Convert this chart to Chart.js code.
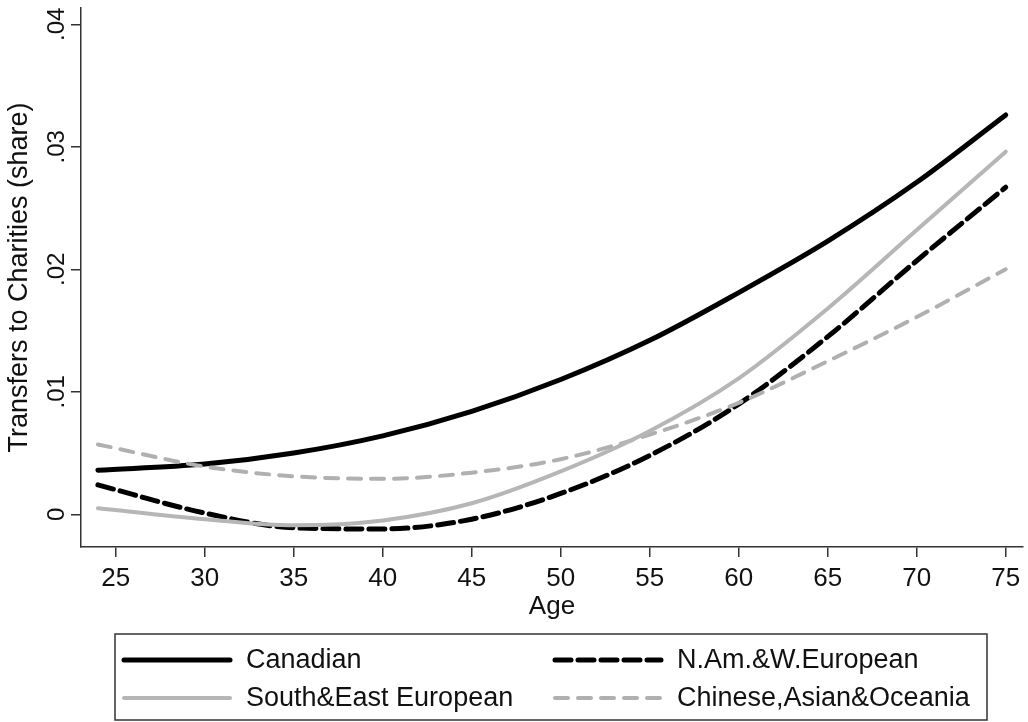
<!DOCTYPE html>
<html>
<head>
<meta charset="utf-8">
<script src="https://cdn.jsdelivr.net/npm/chart.js@4.4.1/dist/chart.umd.min.js"></script>
<style>
  html, body { margin: 0; padding: 0; background: #fff; }
  #wrap { width: 1028px; height: 722px; }
</style>
</head>
<body>
<div id="wrap"><canvas id="chart" width="1028" height="722"></canvas></div>
<script>
// values (share of income)
const ages = [24, 30, 35, 40, 45, 50, 55, 60, 65, 70, 75];
const canadian = [0.0036, 0.0041, 0.0050, 0.0064, 0.0084, 0.0110, 0.0142, 0.0181, 0.0223, 0.0271, 0.0326];
const namWEuropean = [0.0024, 0.0001, -0.0011, -0.0012, -0.0004, 0.0017, 0.0048, 0.0090, 0.0145, 0.0207, 0.0267];
const southEastEuropean = [0.0005, -0.0004, -0.0009, -0.0005, 0.0009, 0.0035, 0.0068, 0.0111, 0.0168, 0.0232, 0.0296];
const chineseAsianOceania = [0.0057, 0.0039, 0.0031, 0.0029, 0.0034, 0.0045, 0.0065, 0.0091, 0.0125, 0.0161, 0.0200];

const seriesNames = ['Canadian', 'N.Am.&W.European', 'South&East European', 'Chinese,Asian&Oceania'];
const xTicks = [25, 30, 35, 40, 45, 50, 55, 60, 65, 70, 75];
const yTicks = [0, 0.01, 0.02, 0.03, 0.04];
const yTickLabels = ['0', '.01', '.02', '.03', '.04'];

const FONT = "'Liberation Sans', Arial, Helvetica, sans-serif";
const AXIS = '#333';
const TEXT = '#111';

const pts = vals => ages.map((a, i) => ({ x: a, y: vals[i] }));

// legend drawn in a framed box, two columns like the original
const legendBox = {
  id: 'legendBox',
  afterDraw(chart, args, o) {
    const ctx = chart.ctx;
    ctx.save();
    ctx.strokeStyle = AXIS;
    ctx.lineWidth = 1.5;
    ctx.strokeRect(o.left, o.top, o.width, o.height);
    chart.data.datasets.forEach((ds, i) => {
      const x = o.cols[i % 2];
      const y = o.rows[Math.floor(i / 2)];
      ctx.beginPath();
      ctx.strokeStyle = ds.borderColor;
      ctx.lineWidth = ds.borderWidth;
      ctx.lineCap = 'round';
      ctx.setLineDash(ds.borderDash || []);
      ctx.moveTo(x, y);
      ctx.lineTo(x + o.sample, y);
      ctx.stroke();
      ctx.setLineDash([]);
      ctx.fillStyle = TEXT;
      ctx.font = `27px ${FONT}`;
      ctx.textBaseline = 'middle';
      ctx.textAlign = 'left';
      ctx.fillText(ds.label, x + o.textGap, y + 1);
    });
    ctx.restore();
  }
};

new Chart(document.getElementById('chart'), {
  type: 'line',
  data: {
    datasets: [
      { label: seriesNames[0], data: pts(canadian), borderColor: '#000', borderWidth: 5, order: 2 },
      { label: seriesNames[1], data: pts(namWEuropean), borderColor: '#000', borderWidth: 5, borderDash: [16, 7], order: 2 },
      { label: seriesNames[2], data: pts(southEastEuropean), borderColor: '#b6b6b6', borderWidth: 4, order: 1 },
      { label: seriesNames[3], data: pts(chineseAsianOceania), borderColor: '#b0b0b0', borderWidth: 4, borderDash: [13, 10], order: 1 },
    ]
  },
  options: {
    responsive: false,
    animation: false,
    devicePixelRatio: 1,
    layout: { padding: { left: 0, top: 8, right: 5, bottom: 95 } },
    elements: {
      point: { radius: 0 },
      line: { cubicInterpolationMode: 'monotone', borderCapStyle: 'round', fill: false }
    },
    plugins: {
      legend: { display: false },
      tooltip: { enabled: false },
      legendBox: {
        left: 115, top: 634, width: 872, height: 86,
        cols: [124, 555], rows: [660, 698],
        sample: 106, textGap: 122
      }
    },
    scales: {
      x: {
        type: 'linear',
        min: 23.05,
        max: 75.97,
        afterBuildTicks: s => { s.ticks = xTicks.map(v => ({ value: v })); },
        afterFit: s => { s.height = 80; s.paddingLeft = 0; s.paddingRight = 0; },
        grid: { drawOnChartArea: false, drawTicks: true, tickLength: 10, color: AXIS, lineWidth: 1.5 },
        border: { display: true, color: AXIS, width: 1.5 },
        ticks: { color: TEXT, font: { family: FONT, size: 26 }, padding: 6, maxRotation: 0, minRotation: 0, autoSkip: false },
        title: { display: true, text: 'Age', color: TEXT, font: { family: FONT, size: 26 }, padding: { top: 0, bottom: 5 } }
      },
      y: {
        type: 'linear',
        min: -0.00267,
        max: 0.04133,
        afterBuildTicks: s => { s.ticks = yTicks.map(v => ({ value: v })); },
        afterFit: s => { s.width = 81; s.paddingTop = 0; s.paddingBottom = 0; },
        grid: { drawOnChartArea: false, drawTicks: true, tickLength: 10, color: AXIS, lineWidth: 1.5 },
        border: { display: true, color: AXIS, width: 1.5 },
        ticks: {
          color: TEXT, font: { family: FONT, size: 24 }, padding: -3,
          minRotation: 90, maxRotation: 90, crossAlign: 'center', autoSkip: false,
          callback: (v, i) => yTickLabels[i]
        },
        title: { display: true, text: 'Transfers to Charities (share)', color: TEXT, font: { family: FONT, size: 27 }, padding: { top: 3, bottom: 0 } }
      }
    }
  },
  plugins: [legendBox]
});
</script>
</body>
</html>
